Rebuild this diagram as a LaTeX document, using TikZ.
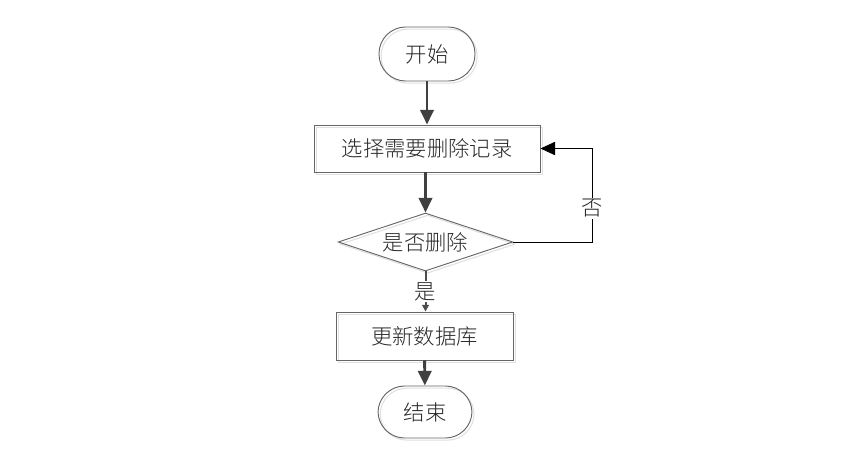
\documentclass[tikz,border=0pt]{standalone}
\usepackage{fontspec}
\newfontfamily\cjk{Noto Sans CJK SC Light}
\usetikzlibrary{arrows.meta,shapes.geometric}
\begin{document}
\begin{tikzpicture}[x=0.75pt,y=-0.75pt,
  every node/.style={font=\cjk\fontsize{16}{19}\selectfont, text=black!85},
  shade/.style={preaction={draw=black!12, line width=0.8pt, transform canvas={shift={(1.6pt,-1.6pt)}}}},
  term/.style={draw=black!60, line width=0.7pt, rectangle, rounded corners=20pt, minimum width=72pt, minimum height=40.5pt, inner sep=0pt, shade},
  proc/.style={draw=black!60, line width=0.7pt, rectangle, inner sep=0pt, shade},
  dec/.style={draw=black!60, line width=0.7pt, diamond, aspect=3, inner sep=0pt, minimum width=131pt, minimum height=43.5pt, shade},
  flow/.style={draw=black!75, line width=2.2pt, -{Triangle[length=11pt,width=10pt]}},
  back/.style={draw=black, line width=0.7pt, -{Triangle[length=11pt,width=10pt]}},
  lbl/.style={fill=white, inner sep=1pt}]
\useasboundingbox (0,0) rectangle (845,469);
\node[term] (s) at (427,54) {开始};
\node[proc, minimum width=169.5pt, minimum height=35.25pt] (r1) at (427,148.5) {选择需要删除记录};
\node[dec] (d) at (425.5,242) {是否删除};
\node[proc, minimum width=132.75pt, minimum height=36pt] (r2) at (424.5,336) {更新数据库};
\node[term, minimum width=70.5pt, minimum height=39pt] (e) at (425,412) {结束};
\coordinate (k) at (592,148.5);
\draw[flow] (s) -- (r1);
\draw[flow] (r1.south -| d.north) -- (d.north);
\draw[draw=black!70, line width=1.5pt, -{Triangle[length=5pt,width=5pt]}] (d.south) -- node[lbl, pos=0.5] {是} (d.south |- r2.north);
\draw[flow] (r2) -- (e);
\draw[back] (d.east) -| node[lbl, pos=0.68] {否} (k) -- (r1.east);
\end{tikzpicture}
\end{document}
